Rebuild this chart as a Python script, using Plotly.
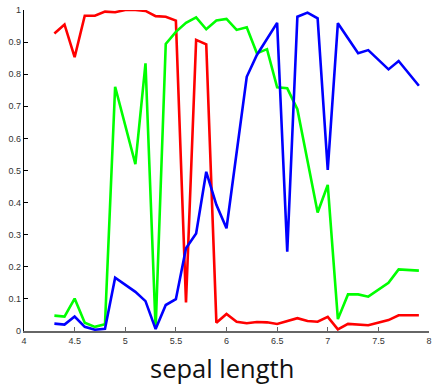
import plotly.graph_objects as go

# Unique sepal lengths (cm)
sepal_length = [4.3, 4.4, 4.5, 4.6, 4.7, 4.8, 4.9, 5.0, 5.1, 5.2, 5.3, 5.4, 5.5,
                5.6, 5.7, 5.8, 5.9, 6.0, 6.1, 6.2, 6.3, 6.4, 6.5, 6.6, 6.7, 6.8,
                6.9, 7.0, 7.1, 7.2, 7.3, 7.4, 7.6, 7.7, 7.9]

# Per-class probability curves
red_vals = [0.927, 0.955, 0.853, 0.982, 0.982, 0.995, 0.993, 1.0, 1.0, 0.997, 0.981, 0.979, 0.967,
            0.089, 0.907, 0.893, 0.026, 0.053, 0.029, 0.024, 0.028, 0.027, 0.022, 0.032, 0.040, 0.031,
            0.029, 0.044, 0.005, 0.022, 0.020, 0.018, 0.034, 0.049, 0.049]
green_vals = [0.048, 0.045, 0.101, 0.026, 0.013, 0.021, 0.761, 0.640, 0.520, 0.834, 0.006, 0.894, 0.932,
              0.960, 0.977, 0.940, 0.967, 0.972, 0.938, 0.946, 0.865, 0.878, 0.759, 0.756, 0.691, 0.530,
              0.369, 0.455, 0.037, 0.114, 0.114, 0.107, 0.150, 0.192, 0.188]
blue_vals = [0.023, 0.020, 0.045, 0.013, 0.004, 0.007, 0.166, 0.144, 0.122, 0.093, 0.006, 0.081, 0.099,
             0.258, 0.304, 0.496, 0.393, 0.320, 0.564, 0.792, 0.860, 0.910, 0.960, 0.247, 0.979, 0.992,
             0.974, 0.502, 0.959, 0.912, 0.865, 0.875, 0.815, 0.841, 0.764]

x_ticks = [4, 4.5, 5, 5.5, 6, 6.5, 7, 7.5, 8]
x_tick_text = ["4", "4.5", "5", "5.5", "6", "6.5", "7", "7.5", "8"]
y_ticks = [0, 0.1, 0.2, 0.3, 0.4, 0.5, 0.6, 0.7, 0.8, 0.9, 1]
y_tick_text = ["0", "0.1", "0.2", "0.3", "0.4", "0.5", "0.6", "0.7", "0.8", "0.9", "1"]

fig = go.Figure()
for vals, color in [(red_vals, "#ff0000"), (green_vals, "#00ff00"), (blue_vals, "#0000ff")]:
    fig.add_trace(go.Scatter(x=sepal_length, y=vals, mode="lines",
                             line=dict(color=color, width=2.6), showlegend=False,
                             hoverinfo="skip"))

fig.update_layout(
    width=435, height=385,
    margin=dict(l=24, r=3, t=10, b=54),
    paper_bgcolor="white", plot_bgcolor="white",
    font=dict(family="Liberation Sans, Arial, sans-serif", size=9, color="#333333"),
    annotations=[dict(text="sepal length", xref="paper", yref="paper",
                      x=0.488, y=0, yshift=-18, xanchor="center", yanchor="top",
                      showarrow=False,
                      font=dict(family="Open Sans, Noto Sans, sans-serif", size=25.5,
                                color="#111111"))],
)
fig.update_xaxes(
    range=[4, 8], tickvals=x_ticks, ticktext=x_tick_text,
    showgrid=False, zeroline=False,
    showline=True, linecolor="#666666", linewidth=1.5,
    ticks="inside", ticklen=4, tickcolor="#666666",
)
fig.update_yaxes(
    range=[0, 1], tickvals=y_ticks, ticktext=y_tick_text,
    showgrid=False, zeroline=False,
    showline=True, linecolor="#000000", linewidth=1.2,
    ticks="inside", ticklen=4, tickcolor="#000000",
)

fig.write_html("out.html")
